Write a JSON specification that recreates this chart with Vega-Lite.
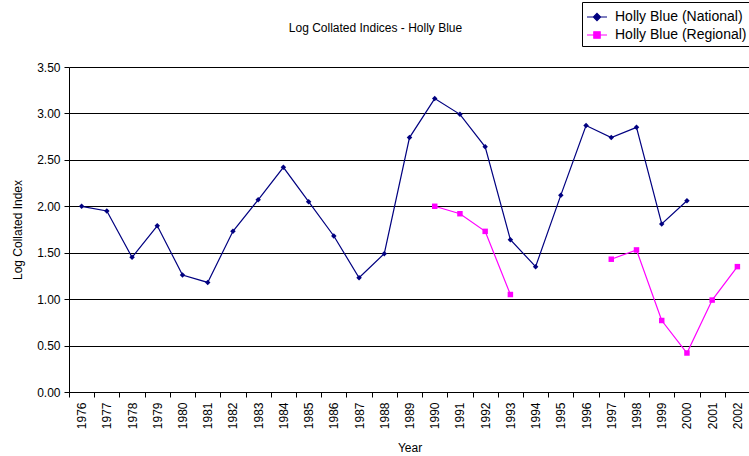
{
  "$schema": "https://vega.github.io/schema/vega-lite/v6.json",
  "width": 681,
  "height": 325,
  "autosize": {"type": "none"},
  "padding": {"left": 69, "top": 67, "right": 0, "bottom": 64},
  "background": "white",
  "title": {"text": "Log Collated Indices - Holly Blue", "font": "Liberation Sans", "fontSize": 12, "fontWeight": "normal", "color": "black", "offset": -33, "anchor": "middle", "frame": "group", "dx": -34},
  "config": {
    "view": {"stroke": null},
    "font": "Liberation Sans"
  },
  "data": {"values": [
    {"Year": "1976", "Series": "Holly Blue (National)", "Value": 2.00},
    {"Year": "1977", "Series": "Holly Blue (National)", "Value": 1.95},
    {"Year": "1978", "Series": "Holly Blue (National)", "Value": 1.45},
    {"Year": "1979", "Series": "Holly Blue (National)", "Value": 1.79},
    {"Year": "1980", "Series": "Holly Blue (National)", "Value": 1.26},
    {"Year": "1981", "Series": "Holly Blue (National)", "Value": 1.18},
    {"Year": "1982", "Series": "Holly Blue (National)", "Value": 1.73},
    {"Year": "1983", "Series": "Holly Blue (National)", "Value": 2.07},
    {"Year": "1984", "Series": "Holly Blue (National)", "Value": 2.42},
    {"Year": "1985", "Series": "Holly Blue (National)", "Value": 2.05},
    {"Year": "1986", "Series": "Holly Blue (National)", "Value": 1.68},
    {"Year": "1987", "Series": "Holly Blue (National)", "Value": 1.23},
    {"Year": "1988", "Series": "Holly Blue (National)", "Value": 1.49},
    {"Year": "1989", "Series": "Holly Blue (National)", "Value": 2.74},
    {"Year": "1990", "Series": "Holly Blue (National)", "Value": 3.16},
    {"Year": "1991", "Series": "Holly Blue (National)", "Value": 2.99},
    {"Year": "1992", "Series": "Holly Blue (National)", "Value": 2.64},
    {"Year": "1993", "Series": "Holly Blue (National)", "Value": 1.64},
    {"Year": "1994", "Series": "Holly Blue (National)", "Value": 1.35},
    {"Year": "1995", "Series": "Holly Blue (National)", "Value": 2.12},
    {"Year": "1996", "Series": "Holly Blue (National)", "Value": 2.87},
    {"Year": "1997", "Series": "Holly Blue (National)", "Value": 2.74},
    {"Year": "1998", "Series": "Holly Blue (National)", "Value": 2.85},
    {"Year": "1999", "Series": "Holly Blue (National)", "Value": 1.81},
    {"Year": "2000", "Series": "Holly Blue (National)", "Value": 2.06},
    {"Year": "2001", "Series": "Holly Blue (National)", "Value": null},
    {"Year": "2002", "Series": "Holly Blue (National)", "Value": null},
    {"Year": "1990", "Series": "Holly Blue (Regional)", "Value": 2.00},
    {"Year": "1991", "Series": "Holly Blue (Regional)", "Value": 1.92},
    {"Year": "1992", "Series": "Holly Blue (Regional)", "Value": 1.73},
    {"Year": "1993", "Series": "Holly Blue (Regional)", "Value": 1.05},
    {"Year": "1994", "Series": "Holly Blue (Regional)", "Value": null},
    {"Year": "1995", "Series": "Holly Blue (Regional)", "Value": null},
    {"Year": "1996", "Series": "Holly Blue (Regional)", "Value": null},
    {"Year": "1997", "Series": "Holly Blue (Regional)", "Value": 1.43},
    {"Year": "1998", "Series": "Holly Blue (Regional)", "Value": 1.53},
    {"Year": "1999", "Series": "Holly Blue (Regional)", "Value": 0.77},
    {"Year": "2000", "Series": "Holly Blue (Regional)", "Value": 0.42},
    {"Year": "2001", "Series": "Holly Blue (Regional)", "Value": 0.99},
    {"Year": "2002", "Series": "Holly Blue (Regional)", "Value": 1.35}
  ]},
  "encoding": {
    "x": {
      "field": "Year", "type": "ordinal",
      "scale": {"type": "band", "paddingInner": 0, "paddingOuter": 0},
      "axis": {
        "title": "Year", "titleFont": "Liberation Sans", "titleFontSize": 12, "titleFontWeight": "normal", "titleColor": "black", "titlePadding": 14,
        "labelAngle": -90, "labelFont": "Liberation Sans", "labelFontSize": 12, "labelColor": "black", "labelPadding": 5,
        "tickBand": "extent", "tickColor": "black", "tickSize": 5, "domainColor": "black", "grid": false
      }
    },
    "y": {
      "field": "Value", "type": "quantitative",
      "scale": {"domain": [0, 3.5], "nice": false},
      "axis": {
        "title": "Log Collated Index", "titleFont": "Liberation Sans", "titleFontSize": 12, "titleFontWeight": "normal", "titleColor": "black", "titlePadding": 12,
        "values": [0, 0.5, 1, 1.5, 2, 2.5, 3, 3.5], "format": ".2f",
        "labelFont": "Liberation Sans", "labelFontSize": 12, "labelColor": "black", "labelPadding": 4,
        "tickColor": "black", "tickSize": 5, "domainColor": "black",
        "grid": true, "gridColor": "black", "gridWidth": 1
      }
    },
    "color": {
      "field": "Series", "type": "nominal",
      "scale": {"domain": ["Holly Blue (National)", "Holly Blue (Regional)"], "range": ["#000080", "#FF00FF"]},
      "legend": {
        "title": null, "orient": "none", "legendX": 513, "legendY": -65,
        "fillColor": "white", "strokeColor": "black", "padding": 4,
        "labelFont": "Liberation Sans", "labelFontSize": 14, "labelColor": "black", "labelOffset": 7,
        "symbolSize": 400, "rowPadding": 0,
        "encode": {
          "symbols": {
            "update": {
              "shape": {"signal": "datum.value === 'Holly Blue (National)' ? 'M-1,0H1M0,-0.36L0.36,0L0,0.36L-0.36,0Z' : 'M-1,0H1M-0.32,-0.32H0.32V0.32H-0.32Z'"},
              "fill": {"signal": "datum.value === 'Holly Blue (National)' ? '#000080' : '#FF00FF'"},
              "stroke": {"signal": "datum.value === 'Holly Blue (National)' ? '#000080' : '#FF00FF'"},
              "strokeWidth": {"value": 1.2},
              "opacity": {"value": 1}
            }
          }
        }
      }
    }
  },
  "layer": [
    {
      "mark": {"type": "line", "strokeWidth": 1.2, "invalid": "break-paths-show-domains"}
    },
    {
      "transform": [{"filter": "datum.Series === 'Holly Blue (National)'"}],
      "mark": {"type": "point", "filled": true, "opacity": 1, "size": 30, "shape": "diamond"}
    },
    {
      "transform": [{"filter": "datum.Series === 'Holly Blue (Regional)'"}],
      "mark": {"type": "point", "filled": true, "opacity": 1, "size": 30, "shape": "square"}
    }
  ]
}
